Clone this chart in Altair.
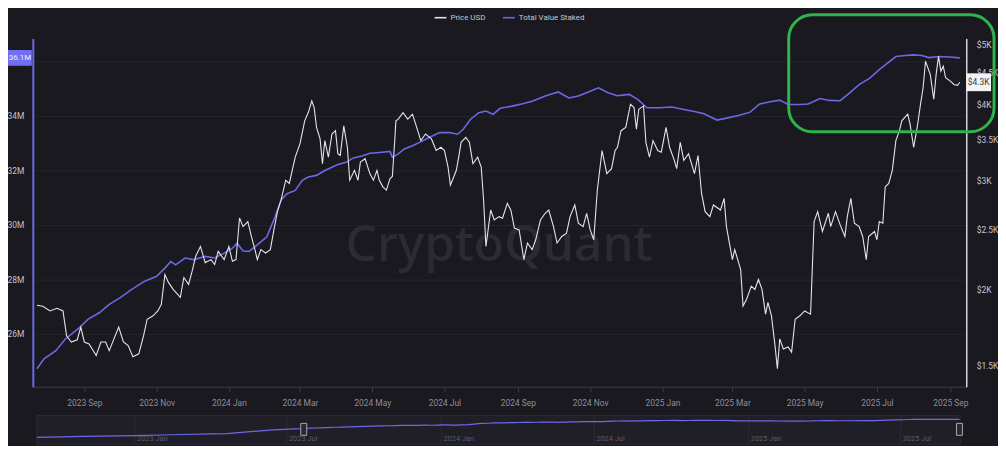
import altair as alt
import pandas as pd

# ---------------- data ----------------
price_dates = [
    "2023-07-23","2023-07-28","2023-08-03","2023-08-09","2023-08-14","2023-08-17","2023-08-21","2023-08-26",
    "2023-08-29","2023-09-01","2023-09-05","2023-09-11","2023-09-15","2023-09-19","2023-09-22","2023-09-30",
    "2023-10-04","2023-10-08","2023-10-12","2023-10-17","2023-10-21","2023-10-24","2023-10-29","2023-11-02",
    "2023-11-05","2023-11-08","2023-11-11","2023-11-15","2023-11-21","2023-11-24","2023-11-28","2023-12-01",
    "2023-12-04","2023-12-08","2023-12-12","2023-12-17","2023-12-20","2023-12-23","2023-12-28","2024-01-01",
    "2024-01-04","2024-01-07","2024-01-10","2024-01-13","2024-01-17","2024-01-20","2024-01-23","2024-01-25",
    "2024-01-28","2024-02-01","2024-02-05","2024-02-08","2024-02-11","2024-02-14","2024-02-18","2024-02-21",
    "2024-02-26","2024-03-01","2024-03-05","2024-03-08","2024-03-11","2024-03-13","2024-03-15","2024-03-18",
    "2024-03-20","2024-03-22","2024-03-25","2024-03-28","2024-03-31","2024-04-02","2024-04-04","2024-04-07",
    "2024-04-10","2024-04-12","2024-04-16","2024-04-19","2024-04-21","2024-04-25","2024-04-29","2024-05-02",
    "2024-05-05","2024-05-07","2024-05-10","2024-05-13","2024-05-16","2024-05-18","2024-05-20","2024-05-21",
    "2024-05-23","2024-05-27","2024-05-31","2024-06-04","2024-06-08","2024-06-11","2024-06-15","2024-06-20",
    "2024-06-24","2024-06-28","2024-07-01","2024-07-04","2024-07-06","2024-07-11","2024-07-13","2024-07-15",
    "2024-07-19","2024-07-22","2024-07-25","2024-07-29","2024-08-01","2024-08-03","2024-08-05","2024-08-09",
    "2024-08-12","2024-08-16","2024-08-19","2024-08-23","2024-08-26","2024-08-29","2024-09-02","2024-09-06",
    "2024-09-09","2024-09-13","2024-09-16","2024-09-20","2024-09-24","2024-09-27","2024-10-01","2024-10-04",
    "2024-10-08","2024-10-12","2024-10-15","2024-10-19","2024-10-22","2024-10-26","2024-10-29","2024-11-01",
    "2024-11-04","2024-11-07","2024-11-11","2024-11-15","2024-11-19","2024-11-22","2024-11-24","2024-11-27",
    "2024-12-01","2024-12-05","2024-12-08","2024-12-10","2024-12-12","2024-12-16","2024-12-18","2024-12-21",
    "2024-12-24","2024-12-28","2024-12-31","2025-01-04","2025-01-07","2025-01-11","2025-01-13","2025-01-16",
    "2025-01-19","2025-01-23","2025-01-28","2025-01-31","2025-02-03","2025-02-06","2025-02-10","2025-02-13",
    "2025-02-19","2025-02-22","2025-02-24","2025-03-01","2025-03-03","2025-03-08","2025-03-10","2025-03-13",
    "2025-03-17","2025-03-20","2025-03-23","2025-03-26","2025-03-29","2025-03-31","2025-04-03","2025-04-06",
    "2025-04-08","2025-04-10","2025-04-13","2025-04-17","2025-04-20","2025-04-23","2025-04-27","2025-05-01",
    "2025-05-06","2025-05-09","2025-05-12","2025-05-16","2025-05-21","2025-05-23","2025-05-27","2025-05-31",
    "2025-06-04","2025-06-06","2025-06-09","2025-06-12","2025-06-16","2025-06-19","2025-06-22","2025-06-24",
    "2025-06-29","2025-07-01","2025-07-03","2025-07-06","2025-07-08","2025-07-11","2025-07-14","2025-07-17",
    "2025-07-20","2025-07-22","2025-07-27","2025-07-29","2025-08-01","2025-08-04","2025-08-07","2025-08-09",
    "2025-08-11","2025-08-15","2025-08-18","2025-08-20","2025-08-22","2025-08-24","2025-08-26","2025-08-28",
    "2025-09-01","2025-09-04","2025-09-07","2025-09-09",
]
price_values = [
    1883,1876,1843,1862,1843,1680,1641,1655,
    1735,1641,1629,1560,1641,1641,1589,1735,
    1641,1619,1553,1570,1680,1787,1810,1843,
    1890,2113,2051,1998,1940,2089,2036,2139,
    2262,2347,2209,2234,2193,2304,2234,2347,
    2220,2234,2611,2528,2576,2436,2319,2234,
    2319,2290,2319,2497,2673,2792,3007,2971,
    3279,3446,3756,3874,4046,3947,3664,3510,
    3199,3488,3279,3575,3620,3320,3299,3687,
    3402,3007,3121,3007,3218,3259,3083,3007,
    3121,3007,2934,2898,3026,3050,3488,3756,
    3780,3874,3780,3851,3642,3488,3575,3510,
    3361,3402,3361,3159,2952,3121,3279,3466,
    3531,3466,3199,3279,3159,2792,2347,2690,
    2592,2624,2608,2758,2690,2513,2497,2234,
    2377,2319,2406,2592,2657,2690,2528,2377,
    2436,2467,2624,2741,2560,2528,2657,2497,
    2406,2898,3361,3083,3140,3361,3402,3620,
    3664,3997,3947,3642,3923,3972,3466,3279,
    3488,3361,3340,3664,3402,3239,3140,3466,
    3239,3320,3083,3299,2862,2673,2624,2741,
    2690,2810,2528,2234,2319,2152,1878,1926,
    2023,1998,2074,1998,1821,1904,1810,1619,
    1485,1660,1599,1611,1580,1787,1810,1843,
    1821,2576,2673,2482,2657,2528,2673,2544,
    2436,2624,2810,2560,2528,2436,2234,2436,
    2482,2406,2576,2560,2934,2971,3121,3488,
    3620,3756,3851,3711,3402,3664,4021,4251,
    4694,4469,4072,4469,4782,4524,4608,4413,
    4358,4305,4290,4340,
]

staked_dates = [
    "2023-07-23","2023-07-29","2023-08-08","2023-08-16","2023-08-28","2023-09-04","2023-09-14","2023-09-22",
    "2023-10-01","2023-10-11","2023-10-22","2023-11-01","2023-11-08","2023-11-13","2023-11-17","2023-11-25",
    "2023-12-02","2023-12-12","2023-12-20","2023-12-28","2024-01-04","2024-01-08","2024-01-13","2024-01-18",
    "2024-01-25","2024-02-02","2024-02-09","2024-02-14","2024-02-19","2024-02-26","2024-03-03","2024-03-08",
    "2024-03-15","2024-03-22","2024-03-28","2024-04-02","2024-04-09","2024-04-15","2024-04-23","2024-04-29",
    "2024-05-07","2024-05-16","2024-05-18","2024-05-23","2024-05-28","2024-06-04","2024-06-10","2024-06-18",
    "2024-06-27","2024-07-05","2024-07-12","2024-07-17","2024-07-23","2024-07-30","2024-08-05","2024-08-11",
    "2024-08-17","2024-08-27","2024-09-05","2024-09-13","2024-09-24","2024-10-05","2024-10-14","2024-10-22",
    "2024-10-29","2024-11-08","2024-11-16","2024-11-24","2024-12-04","2024-12-11","2024-12-19","2024-12-29",
    "2025-01-09","2025-01-19","2025-01-28","2025-02-05","2025-02-16","2025-02-24","2025-03-06","2025-03-16",
    "2025-03-24","2025-04-02","2025-04-10","2025-04-17","2025-04-27","2025-05-04","2025-05-14","2025-05-22",
    "2025-05-31","2025-06-08","2025-06-16","2025-06-25","2025-07-03","2025-07-11","2025-07-17","2025-07-25",
    "2025-08-01","2025-08-08","2025-08-14","2025-08-23","2025-08-31","2025-09-09",
]
staked_values = [
    24.72,25.08,25.38,25.81,26.23,26.53,26.78,27.08,
    27.32,27.63,27.93,28.11,28.41,28.65,28.53,28.78,
    28.72,28.84,28.78,28.96,29.14,29.32,29.04,29.02,
    29.26,29.56,30.29,30.90,31.14,31.26,31.63,31.75,
    31.81,31.99,32.11,32.21,32.29,32.45,32.53,32.62,
    32.65,32.69,32.47,32.60,32.78,32.90,33.02,33.20,
    33.38,33.38,33.32,33.51,33.87,34.11,34.17,34.05,
    34.27,34.35,34.44,34.53,34.72,34.87,34.65,34.72,
    34.84,35.02,34.84,34.73,34.78,34.60,34.29,34.29,
    34.32,34.23,34.15,34.07,33.84,33.91,34.01,34.13,
    34.43,34.51,34.57,34.41,34.41,34.43,34.63,34.56,
    34.55,34.84,35.14,35.38,35.69,35.96,36.17,36.21,
    36.23,36.21,36.13,36.17,36.15,36.12,
]

# earlier history shown only in the navigator strip
nav_hist_dates = ["2022-09-06","2022-11-01","2023-01-01","2023-02-15","2023-04-01","2023-04-20",
                  "2023-05-15","2023-06-15","2023-07-10"]
nav_hist_values = [13.6, 14.8, 15.9, 16.9, 18.0, 18.4, 20.5, 23.0, 24.3]

left_ticks = [26, 28, 30, 32, 34, 36]
right_ticks = [1500, 2000, 2500, 3000, 3500, 4000, 4500, 5000]
x_tick_months = [(2023, 9), (2023, 11), (2024, 1), (2024, 3), (2024, 5), (2024, 7), (2024, 9),
                 (2024, 11), (2025, 1), (2025, 3), (2025, 5), (2025, 7), (2025, 9)]
nav_label_dates = ["2023-01-01", "2023-07-01", "2024-01-01", "2024-07-01", "2025-01-01", "2025-07-01"]
nav_label_text = ["2023 Jan", "2023 Jul", "2024 Jan", "2024 Jul", "2025 Jan", "2025 Jul"]
nav_handle_dates = ["2023-07-21", "2025-09-09"]
series_names = ["Price USD", "Total Value Staked"]

# ---------------- style ----------------
W, H = 941, 351
BG = "#1a1920"
PRICE_C = "#e4e4ea"
STAKE_C = "#6b69e6"
FONT = "Roboto"

price_df = pd.DataFrame({"date": price_dates, "price": price_values, "series": series_names[0]})
staked_df = pd.DataFrame({"date": staked_dates, "staked": staked_values, "series": series_names[1]})
nav_df = pd.DataFrame({"date": nav_hist_dates + staked_dates, "staked": nav_hist_values + staked_values})
one = pd.DataFrame({"k": [0]})

x_scale = alt.Scale(type="utc",
                    domain=[alt.DateTime(year=2023, month=7, date=19, hours=12, utc=True),
                            alt.DateTime(year=2025, month=9, date=14, hours=10, utc=True)])
yp_scale = alt.Scale(type="log", domain=[1388, 5112], nice=False, zero=False)
ys_scale = alt.Scale(type="linear", domain=[24.06, 36.83], nice=False, zero=False)

color = alt.Color(
    "series:N",
    scale=alt.Scale(domain=series_names, range=[PRICE_C, STAKE_C]),
    legend=alt.Legend(orient="none", legendX=404, legendY=-28, direction="horizontal",
                      title=None, symbolType="stroke", symbolSize=144, symbolStrokeWidth=1.6,
                      labelColor="#c9c8d0", labelFontSize=8, labelFont=FONT,
                      labelOffset=3, columnPadding=13, padding=0),
)

x_axis = alt.Axis(
    values=[alt.DateTime(year=y, month=m, date=1, utc=True) for y, m in x_tick_months],
    labelExpr="utcFormat(datum.value, '%Y %b')", title=None, grid=False,
    labelColor="#8e8d99", labelFontSize=8.5, labelFont=FONT, labelPadding=7,
    tickColor="#3e3d47", tickSize=5, domainColor="#3e3d47", labelFlush=False,
)

staked_line = alt.Chart(staked_df).mark_line(strokeWidth=1.6, clip=True).encode(
    x=alt.X("date:T", scale=x_scale, axis=x_axis),
    y=alt.Y("staked:Q", scale=ys_scale,
            axis=alt.Axis(orient="left", values=left_ticks,
                          labelExpr="datum.value == 36 ? '' : datum.value + 'M'",
                          title=None, grid=True, gridColor="#25242c", gridWidth=1,
                          ticks=False, labelPadding=9, labelColor="#c4c3cc",
                          labelFontSize=8.5, labelFont=FONT,
                          domainColor=STAKE_C, domainWidth=2)),
    color=color,
)

price_line = alt.Chart(price_df).mark_line(strokeWidth=1.1, clip=True).encode(
    x=alt.X("date:T", scale=x_scale, axis=None),
    y=alt.Y("price:Q", scale=yp_scale,
            axis=alt.Axis(orient="right", values=right_ticks,
                          labelExpr="'$' + (datum.value % 1000 == 0 ? datum.value / 1000 : format(datum.value / 1000, '.1f')) + 'K'",
                          title=None, grid=False, ticks=False, labelPadding=10,
                          labelColor="#c4c3cc", labelFontSize=8.5, labelFont=FONT,
                          domainColor="#d6d6dc", domainWidth=1.5)),
    color=color,
)

watermark = alt.Chart(one).mark_text(
    text="CryptoQuant", fontSize=50, font="Noto Sans", fontWeight=500, color="#2c2b34",
    align="center", baseline="middle",
).encode(x=alt.value(470), y=alt.value(209))

# last-value tags
last_price = price_df.tail(1)
price_tag_box = alt.Chart(last_price).transform_calculate(
    hi="datum.price * 1.034", lo="datum.price / 1.034"
).mark_rect(color="#f2f2f4").encode(
    x=alt.value(941), x2=alt.value(966),
    y=alt.Y("hi:Q", scale=yp_scale, axis=None), y2="lo:Q",
)
price_tag_text = alt.Chart(last_price).transform_calculate(
    label="'$' + format(datum.price / 1000, '.1f') + 'K'"
).mark_text(color="#3a3a42", fontSize=8.5, font=FONT, align="center", baseline="middle").encode(
    x=alt.value(953.5), y=alt.Y("price:Q", scale=yp_scale, axis=None), text="label:N",
)

last_staked = staked_df.tail(1)
staked_tag_box = alt.Chart(last_staked).transform_calculate(
    hi="datum.staked + 0.29", lo="datum.staked - 0.29"
).mark_rect(color="#706ef2").encode(
    x=alt.value(-25), x2=alt.value(-1),
    y=alt.Y("hi:Q", scale=ys_scale, axis=None), y2="lo:Q",
)
staked_tag_text = alt.Chart(last_staked).transform_calculate(
    label="format(datum.staked, '.1f') + 'M'"
).mark_text(color="#f4f4ff", fontSize=8, font=FONT, align="center", baseline="middle").encode(
    x=alt.value(-13), y=alt.Y("staked:Q", scale=ys_scale, axis=None), text="label:N",
)

# green highlight box
highlight = alt.Chart(one).mark_rect(
    fillOpacity=0, stroke="#2fb34b", strokeWidth=3, cornerRadius=24,
).encode(x=alt.value(762), x2=alt.value(969), y=alt.value(-24), y2=alt.value(94))

# ---------------- navigator strip ----------------
nav_x = alt.Scale(type="utc", domain=[alt.DateTime(year=2022, month=9, date=6, utc=True),
                                       alt.DateTime(year=2025, month=9, date=10, utc=True)],
                  range=[4, 935])
nav_y = alt.Scale(domain=[5, 41], range=[409, 380], nice=False, zero=False)

nav_bg = alt.Chart(one).mark_rect(fill="#201f27", stroke="#2a2932", strokeWidth=1).encode(
    x=alt.value(4), x2=alt.value(935), y=alt.value(380), y2=alt.value(409))

nav_lab_df = pd.DataFrame({"date": nav_label_dates, "label": nav_label_text})
nav_grid = alt.Chart(nav_lab_df).mark_rule(color="#2c2b34", strokeWidth=1).encode(
    x=alt.X("date:T", scale=nav_x, axis=None), y=alt.value(380), y2=alt.value(409))
nav_labels = alt.Chart(nav_lab_df).mark_text(
    align="left", baseline="middle", dx=2, fontSize=7.5, font=FONT, color="#5b5a66"
).encode(x=alt.X("date:T", scale=nav_x, axis=None), y=alt.value(404), text="label:N")

nav_line = alt.Chart(nav_df).mark_line(color=STAKE_C, strokeWidth=1.2).encode(
    x=alt.X("date:T", scale=nav_x, axis=None),
    y=alt.Y("staked:Q", scale=nav_y, axis=None),
)

nav_handles = alt.Chart(pd.DataFrame({"date": nav_handle_dates})).mark_point(
    shape="M-0.5,-1H0.5V1H-0.5Z", size=144, filled=True, fill="#2a2932",
    stroke="#a8a7b1", strokeWidth=1, opacity=1,
).encode(x=alt.X("date:T", scale=nav_x, axis=None), y=alt.value(394))

chart = alt.layer(
    watermark, nav_bg, nav_grid, nav_labels, nav_line, nav_handles,
    staked_line, price_line,
    price_tag_box, price_tag_text, staked_tag_box, staked_tag_text, highlight,
).resolve_scale(
    x="independent", y="independent"
).properties(
    width=W, height=H, background=BG,
    padding={"left": 25, "top": 29, "right": 32, "bottom": 58},
    autosize=alt.AutoSizeParams(type="none"),
).configure_view(stroke=None)

chart.save("out.html", embed_options={"renderer": "svg", "actions": False})
